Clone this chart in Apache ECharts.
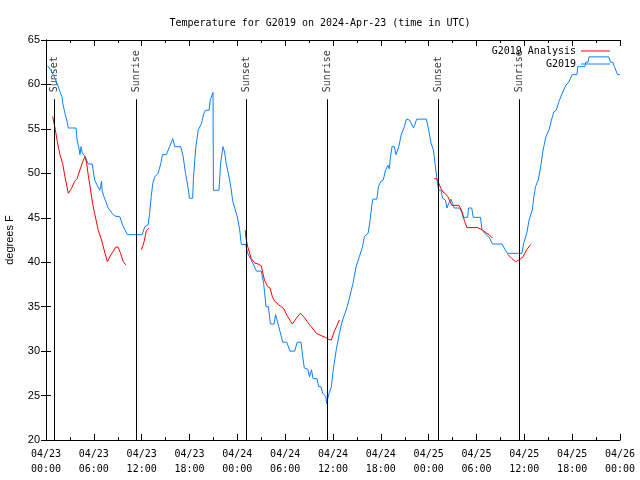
<!DOCTYPE html>
<html>
<head>
<meta charset="utf-8">
<script src="https://cdn.jsdelivr.net/npm/echarts@6/dist/echarts.min.js"></script>
<style>html,body{margin:0;padding:0;background:#fff}#c{width:640px;height:480px}</style>
</head>
<body>
<div id="c"></div>
<script>
// hours since 2024-04-23 00:00 UTC
const xTickLabels = ['04/23\n00:00','04/23\n06:00','04/23\n12:00','04/23\n18:00','04/24\n00:00','04/24\n06:00','04/24\n12:00','04/24\n18:00','04/25\n00:00','04/25\n06:00','04/25\n12:00','04/25\n18:00','04/26\n00:00'];
const sunHours = [1.04, 11.38, 25.13, 35.3, 49.22, 59.39];
const sunLabels = ['Sunset','Sunrise','Sunset','Sunrise','Sunset','Sunrise'];
const sunLineTop = 58.33;

const blueHours = [0.2,0.6,0.92,1.4,1.75,2.0,2.1,2.38,2.6,2.8,3.76,3.9,4.1,4.26,4.4,4.55,4.9,5.3,5.8,6.1,6.5,6.76,6.97,7.05,7.26,7.8,8.3,8.64,9.27,9.6,10.2,12.05,12.4,12.8,13.0,13.2,13.4,13.65,14.06,14.4,14.6,15.1,15.5,15.9,16.15,16.9,17.2,17.5,17.8,18.0,18.4,18.5,18.8,19.1,19.5,19.8,20.0,20.45,20.6,20.95,21.0,21.7,21.9,22.2,22.4,22.6,22.96,23.25,23.4,23.7,24.0,24.3,24.5,25.05,25.3,25.75,26.4,27.0,27.3,27.6,27.9,28.15,28.6,28.8,29.2,29.7,30.2,30.6,31.2,31.5,32.0,32.2,32.4,32.85,33.05,33.3,33.5,34.0,34.2,34.5,34.7,35.1,35.2,35.5,35.8,36.0,36.4,36.8,37.2,37.65,38.1,38.5,38.9,39.3,39.7,39.95,40.4,40.6,40.9,41.0,41.5,41.7,42.0,42.3,42.6,42.9,43.05,43.2,43.4,43.7,43.9,44.25,44.55,44.95,45.2,45.6,46.1,46.5,47.7,48.0,48.3,48.6,48.85,49.1,49.25,49.55,49.75,50.1,50.3,50.5,50.8,51.0,51.2,51.9,52.2,52.3,52.9,53.0,53.4,53.6,54.5,54.7,55.2,55.6,56.0,57.2,57.6,57.9,59.7,59.9,60.3,60.6,61.0,61.2,61.4,61.75,62.05,62.35,62.7,63.1,63.4,63.7,64.0,64.35,64.75,65.2,65.6,66.0,66.6,66.7,67.6,67.7,68.0,68.1,70.6,70.8,71.1,71.3,71.5,71.7,72.0];
const blueTemps = [62.1,61.6,61.1,60.1,59.2,58.6,57.9,56.75,56.0,55.1,55.1,53.75,53.0,52.1,53.0,52.3,51.9,51.05,51.05,49.25,48.5,48.1,49.1,48.0,47.4,46.1,45.5,45.2,45.1,44.2,43.1,43.1,44.0,44.2,45.5,47.4,48.9,49.6,50.0,51.1,52.1,52.1,53.0,53.9,53.0,53.0,51.9,50.0,48.5,47.2,47.2,49.6,53.0,54.9,55.6,56.75,57.1,57.1,58.25,59.1,48.1,48.1,51.1,53.0,52.4,51.1,49.6,48.1,47.0,46.0,45.1,43.6,42.0,42.0,41.0,40.25,39.0,39.0,37.6,35.0,35.0,33.05,33.05,34.1,32.75,31.0,31.0,30.0,30.0,31.0,31.0,29.4,28.1,27.95,27.1,27.9,26.9,26.9,26.0,26.0,25.25,24.9,24.1,25.25,26.0,27.7,30.1,32.0,33.5,34.6,36.1,37.6,39.5,40.6,41.75,42.9,43.25,44.4,46.6,47.1,47.1,48.5,49.1,49.25,50.4,50.9,50.5,51.7,53.0,53.0,52.1,53.0,54.3,55.25,56.1,56.0,55.1,56.1,56.1,54.9,53.4,52.6,50.75,48.9,48.1,48.1,47.2,47.0,46.1,46.6,47.1,46.6,46.1,46.1,45.5,45.05,45.05,46.1,46.1,45.05,45.05,43.6,43.1,42.8,42.05,42.05,41.4,41.0,41.0,42.1,43.25,44.75,45.9,47.4,48.5,49.25,50.75,52.6,54.1,54.9,56.0,56.9,57.1,58.1,59.0,59.9,60.3,61.1,61.1,62.0,62.0,62.5,62.5,63.1,63.1,62.5,62.5,62.0,62.0,61.1,61.1];

const redHours = [0.84,1.13,1.41,1.75,2.09,2.38,2.8,3.2,3.6,3.9,4.26,4.6,4.9,5.1,5.3,5.6,5.85,6.1,6.55,6.97,7.4,7.7,8.0,8.4,8.76,9.05,9.35,9.7,10.0,11.0,11.98,12.3,12.6,12.9,18.0,25.0,25.05,25.3,25.75,26.2,26.6,27.0,27.4,27.8,28.1,28.4,28.7,29.2,29.8,30.3,30.9,31.4,31.9,32.4,32.85,33.4,33.9,34.5,35.05,35.5,35.8,36.2,36.5,36.8,42.0,48.7,49.0,49.25,49.55,49.8,50.1,50.4,50.7,50.9,51.8,52.2,52.5,52.8,54.15,54.8,55.2,55.6,56.0,57.0,57.9,58.45,58.9,59.3,59.8,60.3,60.8];
const redTemps = [56.4,55.1,53.6,52.1,51.1,49.6,47.75,48.3,49.1,49.4,50.4,51.3,51.9,51.1,49.8,48.1,46.6,45.5,43.6,42.5,41.0,40.05,40.6,41.2,41.7,41.7,41.0,40.05,39.7,null,41.4,42.3,43.6,43.8,null,43.6,42.9,41.75,40.4,39.9,39.8,39.6,38.0,37.25,37.1,36.1,35.6,35.2,34.8,33.9,33.05,33.7,34.25,33.8,33.2,32.6,32.0,31.75,31.55,31.3,31.25,32.3,32.9,33.5,null,49.4,49.4,48.9,48.3,47.9,47.7,47.4,46.8,46.4,46.4,45.7,44.6,43.9,43.9,43.6,43.3,43.1,42.7,null,40.9,40.4,40.05,40.25,40.55,41.4,42.0];

const zip = (xs, ys) => xs.map((x, i) => [x, ys[i] === null ? '-' : ys[i]]);
const mono = 'DejaVu Sans Mono';
const sans = 'Liberation Sans';

const chart = echarts.init(document.getElementById('c'), null, {renderer: 'canvas'});
const axisCommon = {
  type: 'value', min: 0, max: 72, interval: 6,
  axisLine: {show: true, lineStyle: {color: '#000', width: 1}},
  axisTick: {show: true, inside: true, length: 6, lineStyle: {color: '#000'}},
  minorTick: {show: true, splitNumber: 2, length: 3, lineStyle: {color: '#000'}},
  splitLine: {show: false}
};
const yCommon = {
  type: 'value', min: 20, max: 65, interval: 5,
  axisLine: {show: true, lineStyle: {color: '#000', width: 1}},
  axisTick: {show: true, inside: true, length: 5, lineStyle: {color: '#000'}},
  splitLine: {show: false}
};
chart.setOption({
  animation: false,
  backgroundColor: '#fff',
  title: {
    text: 'Temperature for G2019 on 2024-Apr-23 (time in UTC)',
    left: 'center', top: 13,
    textStyle: {fontFamily: mono, fontSize: 10, fontWeight: 'normal', color: '#000'}
  },
  legend: {
    orient: 'vertical', right: 25, top: 41, align: 'right',
    icon: 'rect', itemWidth: 29, itemHeight: 1, itemGap: 3,
    textStyle: {fontFamily: mono, fontSize: 10, color: '#000', lineHeight: 10},
    data: ['G2019 Analysis', 'G2019']
  },
  grid: {left: 46, right: 20, top: 40, bottom: 40, containLabel: false, outerBoundsMode: 'none'},
  xAxis: [
    Object.assign({}, axisCommon, {
      position: 'bottom',
      axisLabel: {
        margin: 7, lineHeight: 15,
        fontFamily: mono, fontSize: 10, color: '#000',
        formatter: v => xTickLabels[Math.round(v / 6)]
      }
    }),
    Object.assign({}, axisCommon, {position: 'top', axisLabel: {show: false}})
  ],
  yAxis: [
    Object.assign({}, yCommon, {
      position: 'left',
      name: 'degrees F', nameLocation: 'middle', nameGap: 31,
      nameTextStyle: {fontFamily: sans, fontSize: 11, color: '#000'},
      axisLabel: {margin: 6, fontFamily: sans, fontSize: 11, color: '#000'}
    }),
    Object.assign({}, yCommon, {position: 'right', axisLabel: {show: false}})
  ],
  series: [
    {
      name: 'G2019 Analysis', type: 'line', xAxisIndex: 0, yAxisIndex: 0,
      data: zip(redHours, redTemps), symbol: 'none', showSymbol: false, connectNulls: false,
      lineStyle: {color: '#ff0000', width: 1}, itemStyle: {color: '#ff0000'}, z: 3
    },
    {
      name: 'G2019', type: 'line', xAxisIndex: 0, yAxisIndex: 0,
      data: zip(blueHours, blueTemps), symbol: 'none', showSymbol: false,
      lineStyle: {color: '#0a80ff', width: 1}, itemStyle: {color: '#0a80ff'}, z: 2
    },
    {
      name: 'sun', type: 'scatter', xAxisIndex: 0, yAxisIndex: 0,
      symbolSize: 0, silent: true,
      data: sunHours.map((h, i) => ({value: [h, sunLineTop], name: sunLabels[i]})),
      label: {
        show: true, position: 'top', distance: 7, rotate: 90,
        align: 'left', verticalAlign: 'middle',
        formatter: p => p.name,
        fontFamily: mono, fontSize: 10, color: '#000'
      },
      markLine: {
        silent: true, symbol: 'none',
        lineStyle: {color: '#000', width: 1, type: 'solid'},
        label: {show: false},
        data: sunHours.map(h => [{coord: [h, 20]}, {coord: [h, sunLineTop]}])
      },
      z: 1
    }
  ]
});
</script>
</body>
</html>
